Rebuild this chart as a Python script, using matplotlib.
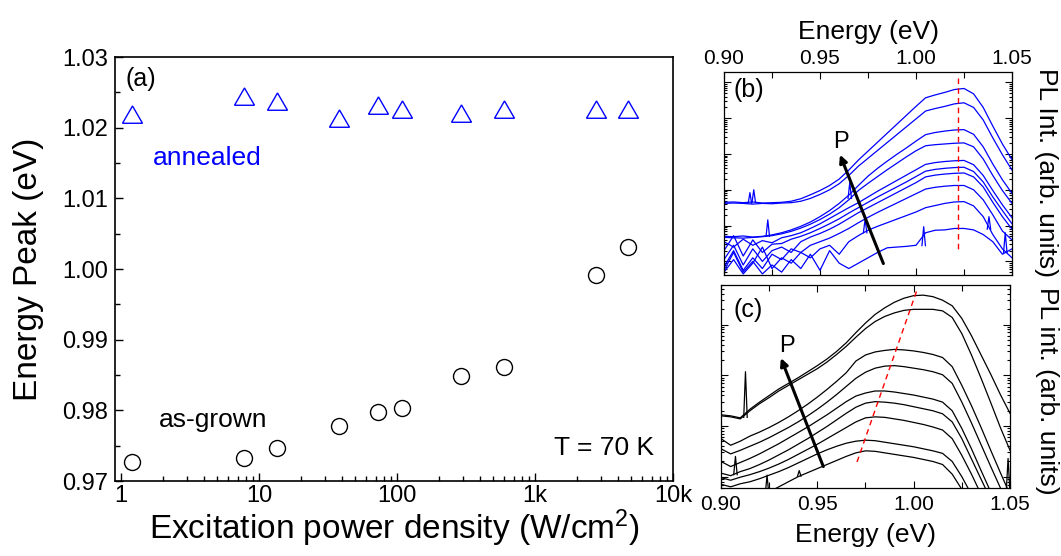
import numpy as np
import matplotlib
matplotlib.use("Agg")
import matplotlib.pyplot as plt
from matplotlib.ticker import (FixedLocator, FixedFormatter, MultipleLocator,
                               LogLocator, NullFormatter, FormatStrFormatter)

plt.rcParams['font.family'] = ['Liberation Sans', 'DejaVu Sans']
plt.rcParams['mathtext.fontset'] = 'custom'
plt.rcParams['mathtext.rm'] = 'Liberation Sans'
plt.rcParams['mathtext.default'] = 'regular'

BLUE = '#0000ff'

# ---- (a) PL peak energy versus excitation power density ----
power_density = [1.21, 7.8, 13.6, 38.2, 72.4, 108, 289, 601, 2766, 4735]
peak_annealed = [1.0215, 1.0241, 1.0234, 1.0209, 1.0228, 1.0222, 1.0217, 1.0222, 1.0222, 1.0222]
peak_as_grown = [0.9727, 0.9733, 0.9747, 0.9778, 0.9797, 0.9803, 0.9849, 0.9862, 0.9991, 1.0031]
power_ticks = [1, 10, 100, 1000, 10000]
power_tick_labels = ['1', '10', '100', '1k', '10k']

# ---- (b), (c) PL spectra, log10 of intensity on a common energy grid ----
energy = np.linspace(0.90, 1.05, 31)

log_pl_annealed = [
    [2.65, 2.66, 2.64, 2.66, 2.63, 2.64, 2.65, 2.68, 2.75, 2.86, 2.98, 3.12, 3.30, 3.55, 3.83, 4.08,
     4.33, 4.58, 4.83, 5.08, 5.33, 5.57, 5.65, 5.72, 5.80, 5.83, 5.68, 5.30, 4.78, 4.28, 3.84],
    [2.62, 2.63, 2.62, 2.60, 2.62, 2.61, 2.63, 2.64, 2.68, 2.76, 2.87, 3.00, 3.17, 3.40, 3.66, 3.88,
     4.10, 4.32, 4.54, 4.76, 4.98, 5.20, 5.27, 5.33, 5.40, 5.43, 5.30, 4.95, 4.45, 3.98, 3.55],
    [1.70, 1.69, 1.71, 1.68, 1.70, 1.74, 1.80, 1.88, 1.98, 2.10, 2.25, 2.42, 2.62, 2.85, 3.12, 3.38,
     3.60, 3.80, 3.99, 4.17, 4.36, 4.54, 4.60, 4.64, 4.67, 4.68, 4.55, 4.20, 3.72, 3.28, 2.90],
    [1.67, 1.66, 1.65, 1.67, 1.69, 1.72, 1.77, 1.84, 1.93, 2.04, 2.17, 2.32, 2.50, 2.72, 2.98, 3.18,
     3.37, 3.56, 3.74, 3.92, 4.09, 4.23, 4.26, 4.28, 4.30, 4.31, 4.20, 3.86, 3.40, 2.98, 2.62],
    [1.55, 1.40, 1.62, 1.45, 1.58, 1.52, 1.66, 1.72, 1.80, 1.92, 2.05, 2.20, 2.35, 2.50, 2.64, 2.80,
     2.96, 3.11, 3.26, 3.41, 3.56, 3.71, 3.76, 3.79, 3.81, 3.82, 3.70, 3.40, 2.98, 2.58, 2.22],
    [1.30, 1.72, 1.15, 1.60, 1.25, 1.48, 1.50, 1.62, 1.70, 1.80, 1.92, 2.05, 2.19, 2.35, 2.50, 2.65,
     2.80, 2.94, 3.08, 3.22, 3.37, 3.52, 3.57, 3.60, 3.62, 3.63, 3.51, 3.22, 2.80, 2.42, 2.05],
    [1.05, 1.45, 0.90, 1.35, 1.00, 1.30, 1.40, 1.25, 1.55, 1.68, 1.78, 1.90, 2.04, 2.20, 2.36, 2.50,
     2.64, 2.78, 2.92, 3.06, 3.20, 3.36, 3.41, 3.44, 3.46, 3.47, 3.36, 3.08, 2.65, 2.25, 1.90],
    [0.85, 1.30, 0.75, 1.10, 0.80, 1.20, 1.05, 1.35, 1.25, 1.45, 1.55, 1.65, 1.78, 1.92, 2.08, 2.23,
     2.37, 2.50, 2.63, 2.76, 2.89, 3.02, 3.07, 3.10, 3.12, 3.12, 3.00, 2.72, 2.30, 1.85, 1.60],
    [0.70, 1.05, 0.65, 0.95, 1.40, 0.80, 1.10, 0.95, 1.25, 1.10, 1.35, 1.45, 1.20, 1.55, 1.72, 1.87,
     1.98, 2.08, 2.18, 2.28, 2.38, 2.50, 2.56, 2.62, 2.66, 2.67, 2.55, 2.25, 1.75, 1.35, 1.10],
    [0.75, 1.25, 0.70, 1.00, 0.65, 0.90, 0.70, 1.05, 0.80, 1.20, 0.75, 1.30, 0.95, 0.80, 0.95, 1.10,
     1.25, 1.38, 1.40, 1.42, 1.45, 1.80, 1.87, 1.88, 1.92, 1.92, 1.88, 1.75, 1.55, 1.20, 1.35],
]

log_pl_as_grown = [
    [2.22, 2.20, 2.16, 2.33, 2.47, 2.60, 2.73, 2.84, 2.95, 3.07, 3.19, 3.32, 3.47, 3.64, 3.84, 4.03,
     4.20, 4.33, 4.44, 4.52, 4.57, 4.58, 4.55, 4.48, 4.37, 4.12, 3.78, 3.40, 3.02, 2.62, 2.25],
    [2.20, 2.18, 2.14, 2.30, 2.44, 2.56, 2.69, 2.80, 2.91, 3.02, 3.13, 3.26, 3.41, 3.57, 3.75, 3.92,
     4.06, 4.16, 4.23, 4.28, 4.30, 4.30, 4.30, 4.27, 4.14, 3.82, 3.40, 2.94, 2.46, 1.97, 1.52],
    [1.75, 1.62, 1.70, 1.80, 1.88, 1.97, 2.07, 2.18, 2.30, 2.43, 2.57, 2.72, 2.88, 3.05, 3.28, 3.40,
     3.46, 3.49, 3.51, 3.50, 3.48, 3.45, 3.41, 3.35, 3.17, 2.80, 2.40, 1.97, 1.52, 1.08, 0.65],
    [1.55, 1.45, 1.52, 1.60, 1.68, 1.77, 1.87, 1.97, 2.08, 2.20, 2.33, 2.47, 2.62, 2.78, 2.94, 3.06,
     3.14, 3.18, 3.19, 3.17, 3.14, 3.11, 3.07, 3.01, 2.84, 2.47, 2.06, 1.63, 1.20, 0.78, 0.40],
    [1.30, 1.20, 1.28, 1.36, 1.45, 1.55, 1.65, 1.76, 1.87, 1.98, 2.10, 2.22, 2.35, 2.48, 2.59, 2.65,
     2.69, 2.69, 2.67, 2.64, 2.61, 2.57, 2.53, 2.47, 2.30, 1.95, 1.55, 1.12, 0.70, 0.35, 0.20],
    [1.07, 1.02, 1.10, 1.16, 1.24, 1.33, 1.43, 1.53, 1.64, 1.75, 1.87, 1.99, 2.12, 2.25, 2.37, 2.45,
     2.48, 2.47, 2.45, 2.42, 2.38, 2.34, 2.30, 2.24, 2.08, 1.75, 1.35, 0.95, 0.55, 0.30, 0.20],
    [0.98, 0.93, 0.99, 1.04, 1.10, 1.17, 1.25, 1.34, 1.44, 1.54, 1.64, 1.75, 1.86, 1.97, 2.08, 2.16,
     2.18, 2.17, 2.14, 2.11, 2.07, 2.03, 1.98, 1.92, 1.75, 1.42, 1.05, 0.65, 0.30, 0.20, 0.20],
    [0.85, 0.80, 0.86, 0.90, 0.96, 1.03, 1.10, 1.18, 1.27, 1.36, 1.45, 1.53, 1.60, 1.66, 1.70, 1.72,
     1.71, 1.68, 1.65, 1.62, 1.59, 1.55, 1.51, 1.46, 1.30, 1.00, 0.65, 0.35, 0.20, 0.20, 0.20],
    [0.45, 0.42, 0.50, 0.55, 0.62, 0.70, 0.80, 0.90, 1.00, 1.08, 1.16, 1.24, 1.32, 1.40, 1.47, 1.51,
     1.50, 1.47, 1.44, 1.41, 1.38, 1.34, 1.30, 1.24, 1.05, 0.75, 0.45, 0.20, 0.20, 0.20, 0.20],
]

# narrow lines / spikes: (spectrum index, energy, log10 base, log10 top)
spikes_annealed = [(0, 0.9155, 2.65, 3.00), (1, 0.9135, 2.62, 2.92), (3, 0.9228, 1.70, 2.16),
                   (3, 0.9655, 2.76, 3.20), (8, 0.9735, 1.80, 2.18), (9, 1.0040, 1.44, 1.97),
                   (8, 1.0380, 1.90, 2.25), (9, 1.0465, 1.25, 1.80)]
spikes_as_grown = [(1, 0.9127, 2.17, 3.07), (5, 0.9075, 1.04, 1.40), (8, 0.9239, 0.66, 1.03),
                   (8, 0.9406, 1.01, 1.12), (2, 1.0490, 0.74, 1.36)]

# peak-position guides (energy, log10 intensity) and power arrows (tail, head)
peak_guide_annealed = ([1.022, 1.022], [6.13, 1.36])
peak_guide_as_grown = ([0.9706, 1.0017], [1.29, 4.68])
arrow_annealed = ((0.983, 0.94), (0.9604, 3.98))
arrow_as_grown = ((0.9531, 1.20), (0.9311, 3.34))

W, H = 1061, 556
fig = plt.figure(figsize=(W / 100, H / 100), dpi=100)


def px_axes(left, top, right, bottom):
    return fig.add_axes([left / W, 1 - bottom / H, (right - left) / W, (bottom - top) / H])


# ---------------- panel (a) ----------------
ax = px_axes(115, 57, 673, 481)
ax.set_xscale('log')
ax.plot(power_density, peak_annealed, ls='none', marker=(3, 0, 0), ms=16.6,
        mfc='none', mec=BLUE, mew=1.0)
ax.plot(power_density, peak_as_grown, ls='none', marker='o', ms=11.5,
        mfc='none', mec='k', mew=1.0)
ax.set_xlim(0.905, 10000)
ax.set_ylim(0.97, 1.03)
ax.xaxis.set_major_locator(FixedLocator(power_ticks))
ax.xaxis.set_major_formatter(FixedFormatter(power_tick_labels))
ax.xaxis.set_minor_locator(LogLocator(base=10, subs=np.arange(2, 10), numticks=20))
ax.xaxis.set_minor_formatter(NullFormatter())
ax.yaxis.set_major_locator(MultipleLocator(0.01))
ax.yaxis.set_minor_locator(MultipleLocator(0.005))
ax.yaxis.set_major_formatter(FormatStrFormatter('%.2f'))
ax.tick_params(which='both', direction='in', top=False, right=False, labelsize=17, width=1.0)
ax.tick_params(which='major', length=6)
ax.tick_params(which='minor', length=3.5)
ax.tick_params(axis='x', pad=3)
ax.tick_params(axis='y', pad=5)
for s in ax.spines.values():
    s.set_linewidth(1.2)
ax.set_xlabel('Excitation power density (W/cm$^{2}$)', fontsize=24)
ax.set_ylabel('Energy Peak (eV)', fontsize=24)
ax.xaxis.set_label_coords(0.5, -0.062)
ax.yaxis.set_label_coords(-0.127, 0.5)
ax.text(0.0197, 0.932, '(a)', transform=ax.transAxes, fontsize=18, va='baseline')
ax.text(0.0676, 0.745, 'annealed', transform=ax.transAxes, fontsize=19, color=BLUE, va='baseline')
ax.text(0.0794, 0.128, 'as-grown', transform=ax.transAxes, fontsize=19, va='baseline')
ax.text(0.787, 0.0613, 'T = 70 K', transform=ax.transAxes, fontsize=19, va='baseline')


def spectra_panel(axp, spectra, spikes, color, guide, arrow, ylog_lim):
    for row in spectra:
        axp.plot(energy, 10 ** np.asarray(row), color=color, lw=0.9)
    for idx, e0, base, top in spikes:
        axp.plot([e0 - 0.0009, e0, e0 + 0.0009], 10 ** np.array([base, top, base]),
                 color=color, lw=0.9)
    axp.plot(guide[0], 10 ** np.asarray(guide[1]), color='red', lw=1.0, ls=(0, (4, 3)))
    (e_t, l_t), (e_h, l_h) = arrow
    axp.annotate('', xy=(e_h, 10 ** l_h), xytext=(e_t, 10 ** l_t),
                 arrowprops=dict(arrowstyle='-|>', color='k', lw=2.2, mutation_scale=11,
                                 shrinkA=0, shrinkB=0))
    axp.set_yscale('log')
    axp.set_xlim(0.90, 1.05)
    axp.set_ylim(10 ** ylog_lim[0], 10 ** ylog_lim[1])
    axp.xaxis.set_major_locator(MultipleLocator(0.05))
    axp.xaxis.set_minor_locator(MultipleLocator(0.025))
    axp.xaxis.set_major_formatter(FormatStrFormatter('%.2f'))
    axp.yaxis.set_major_locator(LogLocator(base=10, numticks=20))
    axp.yaxis.set_minor_locator(LogLocator(base=10, subs=np.arange(2, 10), numticks=20))
    axp.yaxis.set_major_formatter(NullFormatter())
    axp.yaxis.set_minor_formatter(NullFormatter())
    axp.tick_params(which='both', direction='in', top=True, bottom=True, left=True, right=True,
                    labelsize=15, width=0.8)
    axp.tick_params(which='major', length=5)
    axp.tick_params(which='minor', length=2.5)
    axp.tick_params(axis='x', which='minor', length=4)
    for s in axp.spines.values():
        s.set_linewidth(0.9)


# ---------------- panel (b) ----------------
axb = px_axes(724, 72, 1012, 275)
spectra_panel(axb, log_pl_annealed, spikes_annealed, BLUE, peak_guide_annealed,
              arrow_annealed, (0.62, 6.29))
axb.tick_params(axis='x', labeltop=True, labelbottom=False, pad=3)
axb.xaxis.set_label_position('top')
axb.set_xlabel('Energy (eV)', fontsize=19)
axb.xaxis.set_label_coords(0.5, 1.165)
axb.yaxis.set_label_position('right')
axb.set_ylabel('PL Int. (arb. units)', fontsize=19, rotation=270, va='bottom')
axb.yaxis.set_label_coords(1.075, 0.505)
axb.text(0.032, 0.878, '(b)', transform=axb.transAxes, fontsize=18, va='baseline')
axb.text(0.3795, 0.627, 'P', transform=axb.transAxes, fontsize=17, va='baseline')

# ---------------- panel (c) ----------------
axc = px_axes(721, 285, 1010, 488)
spectra_panel(axc, log_pl_as_grown, spikes_as_grown, 'k', peak_guide_as_grown,
              arrow_as_grown, (0.777, 4.78))
axc.tick_params(axis='x', labeltop=False, labelbottom=True, pad=5)
axc.set_xlabel('Energy (eV)', fontsize=19)
axc.xaxis.set_label_coords(0.5, -0.172)
axc.yaxis.set_label_position('right')
axc.set_ylabel('PL int. (arb. units)', fontsize=19, rotation=270, va='bottom')
axc.yaxis.set_label_coords(1.085, 0.478)
axc.text(0.0426, 0.844, '(c)', transform=axc.transAxes, fontsize=18, va='baseline')
axc.text(0.2007, 0.671, 'P', transform=axc.transAxes, fontsize=17, va='baseline')

fig.savefig('out.png', dpi=100)
